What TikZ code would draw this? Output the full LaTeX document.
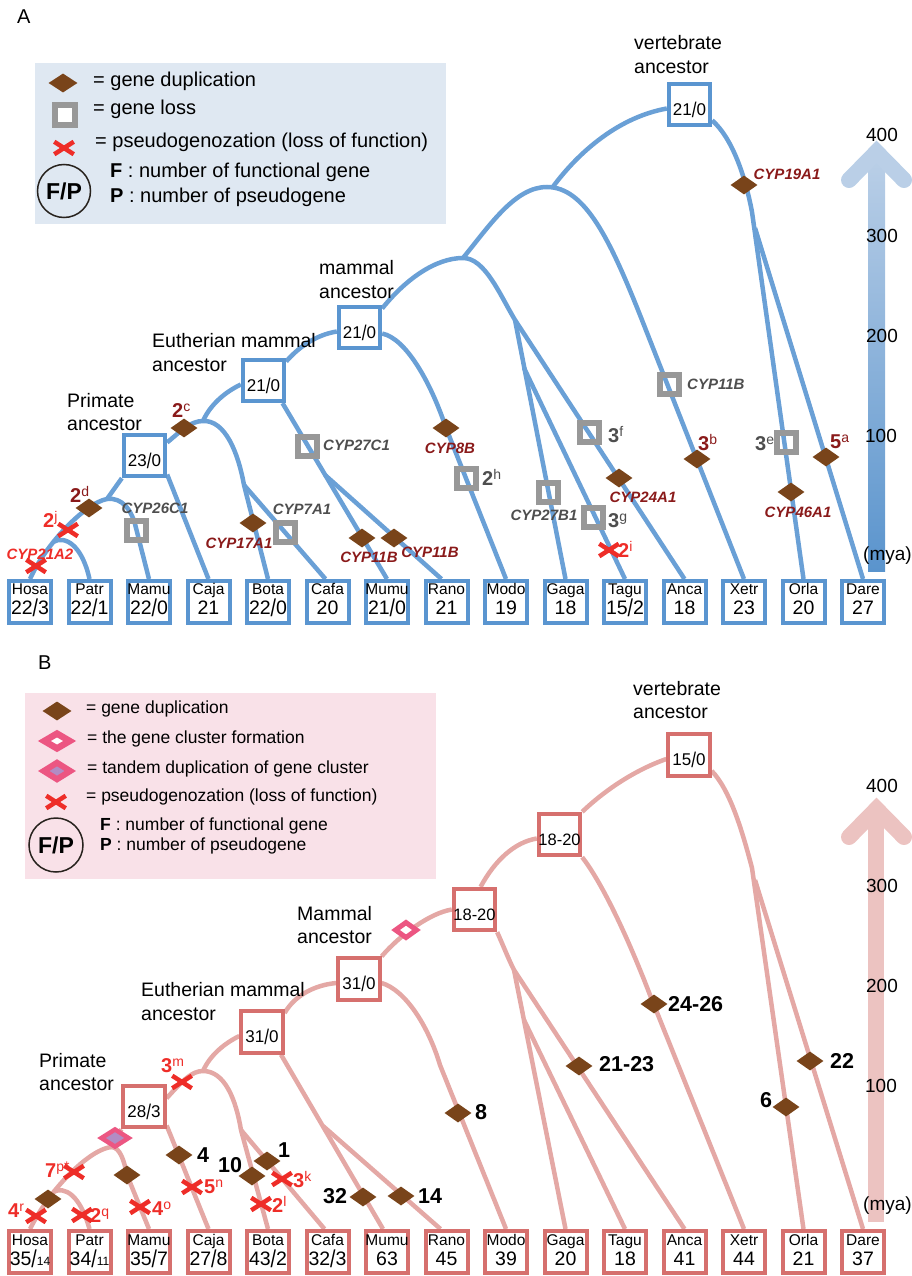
\documentclass[tikz,border=0pt]{standalone}
\usepackage{fontspec}
\setmainfont{Liberation Sans}
\usetikzlibrary{shapes.geometric,shapes.misc,calc}
\pgfdeclarelayer{edges}
\pgfsetlayers{edges,main}
\definecolor{lineA}{RGB}{106,160,214}
\definecolor{boxA}{RGB}{90,149,208}
\definecolor{lineB}{RGB}{228,168,165}
\definecolor{boxB}{RGB}{214,112,110}
\definecolor{brownd}{RGB}{121,68,26}
\definecolor{darkred}{RGB}{138,26,26}
\definecolor{brightred}{RGB}{238,45,40}
\definecolor{lossgray}{RGB}{152,152,152}
\definecolor{labgray}{RGB}{78,78,78}
\definecolor{pinkd}{RGB}{236,86,130}
\definecolor{lavender}{RGB}{178,140,196}
\definecolor{legA}{RGB}{223,232,242}
\definecolor{legB}{RGB}{249,225,232}
\definecolor{barAtop}{RGB}{186,207,231}
\definecolor{barAbot}{RGB}{90,148,205}
\definecolor{barB}{RGB}{236,195,193}
\definecolor{circ}{RGB}{40,35,30}
\newcommand\fsz[1]{\fontsize{#1}{#1}\selectfont}
\newcommand\fsl{\raisebox{-0.12em}{\scalebox{1}[1.25]{/}}}
\newcommand\smn[1]{{\fsz{12}#1}}
\newcommand\sups[1]{\raisebox{6pt}{\normalfont\fsz{14}#1}}
\begin{document}
\begin{tikzpicture}[x=1pt,y=-1pt,
  edgeA/.style={draw=lineA,line width=4.5pt},
  edgeB/.style={draw=lineB,line width=4.5pt},
  ibox/.style={draw=#1,line width=3.8pt,fill=white,minimum size=41.5pt,inner sep=0pt},
  lbox/.style={draw=#1,line width=4pt,fill=white,minimum size=42pt,inner sep=0pt},
  dup/.style={diamond,fill=brownd,minimum width=27pt,minimum height=19pt,inner sep=0pt},
  loss/.style={rectangle,draw=lossgray,line width=6pt,minimum size=19pt,inner sep=0pt},
  pseudo/.style={cross out,draw=brightred,line width=4.5pt,minimum width=15pt,minimum height=8pt,inner sep=0pt},
  clform/.style={diamond,draw=pinkd,fill=white,line width=5pt,minimum width=23pt,minimum height=17pt,inner sep=0pt},
  tandem/.style={diamond,draw=pinkd,fill=lavender,line width=4.5pt,minimum width=29pt,minimum height=19pt,inner sep=0pt},
  treelab/.style={inner sep=0pt,anchor=base west,font=\fsz{19.5}},
  leglab/.style={inner sep=0pt,anchor=base west},
  genelab/.style={inner sep=0pt,anchor=base,font=\fsz{15}\bfseries\itshape},
  numlab/.style={inner sep=0pt,anchor=base west,font=\fsz{20}\bfseries},
  blknum/.style={inner sep=0pt,anchor=base west,font=\fsz{21.5}\bfseries},
  boxnum/.style={inner sep=0pt,anchor=base,font=\fsz{17}},
  scalelab/.style={inner sep=0pt,anchor=base,font=\fsz{19}},
  fpcirc/.style={circle,draw=circ,line width=1.5pt,minimum size=53pt,inner sep=0pt,font=\fsz{23}\bfseries}
]
\useasboundingbox (0,0) rectangle (911,1276);

%================ PANEL A =================
\node[treelab,font=\fsz{20}] (labA) at (17,24) {A};
\fill[legA] (35,63) rectangle (446,224);
\node[dup,minimum width=29pt] (lAd) at (63,83) {};
\node[leglab,font=\fsz{20}] (lAdt) at (93,87) {= gene duplication};
\node[loss,fill=white,minimum size=20pt] (lAl) at (65,115) {};
\node[leglab,font=\fsz{20}] (lAlt) at (93,115) {= gene loss};
\node[pseudo] (lAx) at (64,148) {};
\node[leglab,font=\fsz{20}] (lAxt) at (95,148) {= pseudogenozation (loss of function)};
\node[fpcirc] (lAc) at (64,191) {F/P};
\node[leglab,font=\fsz{20}] (lAf) at (110,178) {\textbf{F} : number of functional gene};
\node[leglab,font=\fsz{20}] (lAp) at (110,203) {\textbf{P} : number of pseudogene};

% time scale A
\shade[top color=barAtop,bottom color=barAbot] (868,157) rectangle (885,571);
\draw[barAtop,line width=16pt,line cap=round,line join=miter] (849,180) -- (876.5,152) -- (904,180);
\node[scalelab] (sA4) at (882,142) {400};
\node[scalelab] (sA3) at (882,242) {300};
\node[scalelab] (sA2) at (882,342) {200};
\node[scalelab] (sA1) at (881,442) {100};
\node[scalelab,anchor=base west] (sAm) at (863,560) {(mya)};

% internal boxes A
\node[ibox=boxA] (aV) at (689.5,104.5) {};
\node[ibox=boxA] (aM) at (359.5,327.5) {};
\node[ibox=boxA] (aE) at (263.5,380.5) {};
\node[ibox=boxA] (aP) at (144.5,455.5) {};
\node[boxnum] (aVn) at ($(aV.center)+(0,11)$) {21\fsl0};
\node[boxnum] (aMn) at ($(aM.center)+(0,11)$) {21\fsl0};
\node[boxnum] (aEn) at ($(aE.center)+(0,11)$) {21\fsl0};
\node[boxnum] (aPn) at ($(aP.center)+(0,11)$) {23\fsl0};
\node[treelab] (aVl1) at (634,50) {vertebrate};
\node[treelab] (aVl2) at (634,74) {ancestor};
\node[treelab] (aMl1) at (319,274) {mammal};
\node[treelab] (aMl2) at (319,298) {ancestor};
\node[treelab] (aEl1) at (152,347) {Eutherian mammal};
\node[treelab] (aEl2) at (152,371) {ancestor};
\node[treelab] (aPl1) at (67,407) {Primate};
\node[treelab] (aPl2) at (67,430) {ancestor};

% leaves (both panels)
\foreach \nm/\na/\nb [count=\i from 0] in {Hosa/{22\fsl3}/{35\fsl\smn{14}},Patr/{22\fsl1}/{34\fsl\smn{11}},Mamu/{22\fsl0}/{35\fsl7},Caja/21/{27\fsl8},Bota/{22\fsl0}/{43\fsl2},Cafa/20/{32\fsl3},Mumu/{21\fsl0}/63,Rano/21/45,Modo/19/39,Gaga/18/20,Tagu/{15\fsl2}/18,Anca/18/41,Xetr/23/44,Orla/20/21,Dare/27/37}{
  \node[lbox=boxA] (a\nm) at ({30+59.5*\i},602) {};
  \node[inner sep=0pt,anchor=base,font=\fsz{15.5}] (a\nm-n) at ($(a\nm.center)+(0,-8)$) {\nm};
  \node[inner sep=0pt,anchor=base,font=\fsz{19.5}] (a\nm-c) at ($(a\nm.center)+(0,12)$) {\na};
  \node[lbox=boxB] (b\nm) at ({30+59.5*\i},1252) {};
  \node[inner sep=0pt,anchor=base,font=\fsz{15.5}] (b\nm-n) at ($(b\nm.center)+(0,-7)$) {\nm};
  \node[inner sep=0pt,anchor=base,font=\fsz{19.5}] (b\nm-c) at ($(b\nm.center)+(0,13)$) {\nb};
}

% junction coordinates A
\coordinate (aTJ) at (552,188);
\coordinate (aTet) at (547,187);
\coordinate (aAm) at (463,258);
\coordinate (aSp) at (515,320);
\coordinate (aBird) at (524,368);
\coordinate (aM8) at (446,428);
\coordinate (aRod) at (325,475);
\coordinate (aEP) at (203,421);
\coordinate (aLaur) at (244,485);
\coordinate (aHC) at (107,499);
\coordinate (aHP) at (53,542);
\coordinate (aMamuK) at (136,528);
\coordinate (aTel) at (752,212);
\coordinate (aDS) at (755,228);

\begin{pgfonlayer}{edges}
\draw[edgeA] (aV.190) .. controls (620,117) and (580,150) .. (aTJ);
\draw[edgeA] (aAm) .. controls (490,225) and (515,187) .. (aTet) .. controls (585,187) and (610,240) .. (640,315) -- (aXetr.north);
\draw[edgeA] (aM.40) .. controls (405,280) and (435,258) .. (aAm) .. controls (485,258) and (500,295) .. (aSp) -- (aAnca.north);
\draw[edgeA] (aSp) -- (aGaga.north);
\draw[edgeA] (aBird) -- (aTagu.north);
\draw[edgeA] (aM.-15) .. controls (405,338) and (430,380) .. (aM8) -- (aModo.north);
\draw[edgeA] (aM.190) .. controls (315,335) and (298,348) .. (aE.40);
\draw[edgeA] (aE.-50) -- (aMumu.north);
\draw[edgeA] (aRod) -- ([xshift=-5pt]aRano.north);
\draw[edgeA] (aE.190) .. controls (225,392) and (210,405) .. (aEP);
\draw[edgeA] (aP.30) .. controls (180,432) and (190,421) .. (aEP) .. controls (225,420) and (238,452) .. (aLaur) -- (aBota.north);
\draw[edgeA] (aLaur) -- ([xshift=-2pt]aCafa.north);
\draw[edgeA] (aP.-40) -- (aCaja.north);
\draw[edgeA] (aP.-135) -- (aHC);
\draw[edgeA] (aHC) .. controls (85,503) and (45,545) .. (aHosa.north);
\draw[edgeA] (aHP) .. controls (65,535) and (82,545) .. (aPatr.north);
\draw[edgeA] (aHC) .. controls (122,497) and (132,510) .. (aMamuK) -- (aMamu.north);
\draw[edgeA] (aV.-35) .. controls (732,138) and (745,175) .. (aTel) -- (aOrla.north);
\draw[edgeA] (aDS) -- (aDare.north);
\end{pgfonlayer}

% markers A
\node[dup] (aD19) at (744,185) {};
\node[dup] (aD2c) at (184,428) {};
\node[dup] (aD2d) at (89,508) {};
\node[dup] (aD17) at (253,523) {};
\node[dup] (aD11a) at (362,538) {};
\node[dup] (aD11b) at (394,538) {};
\node[dup] (aD8B) at (446,428) {};
\node[dup] (aD3b) at (697,459) {};
\node[dup] (aD24) at (619,478) {};
\node[dup] (aD46) at (791,492) {};
\node[dup] (aD5a) at (826,457) {};
\node[loss] (aL26) at (136,530) {};
\node[loss] (aL7) at (285,532) {};
\node[loss] (aL27C) at (307,446) {};
\node[loss] (aL11B) at (669,384) {};
\node[loss] (aL2h) at (466,478) {};
\node[loss] (aL3f) at (589,432) {};
\node[loss] (aL27B) at (548,492) {};
\node[loss] (aL3g) at (593,517) {};
\node[loss] (aL3e) at (786,442) {};
\node[pseudo] (aX2j) at (68,530) {};
\node[pseudo] (aX21) at (36,566) {};
\node[pseudo] (aX2i) at (609,550) {};

% marker labels A
\node[genelab,darkred] (tD19) at (787,179) {CYP19A1};
\node[numlab,darkred] (tD2c) at (172,417) {2\sups{c}};
\node[numlab,darkred] (tD2d) at (70,502) {2\sups{d}};
\node[numlab,brightred] (tX2j) at (43,527) {2\sups{j}};
\node[genelab,brightred] (tX21) at (40,559) {CYP21A2};
\node[genelab,labgray] (tL26) at (155,513) {CYP26C1};
\node[genelab,darkred] (tD17) at (239,548) {CYP17A1};
\node[genelab,labgray] (tL7) at (302,514) {CYP7A1};
\node[genelab,labgray,anchor=base west] (tL27C) at (323,450) {CYP27C1};
\node[genelab,darkred] (tD11a) at (369,562) {CYP11B};
\node[genelab,darkred] (tD11b) at (430,557) {CYP11B};
\node[genelab,darkred] (tD8B) at (450,453) {CYP8B};
\node[genelab,labgray,anchor=base west] (tL11B) at (687,389) {CYP11B};
\node[numlab,labgray] (tL2h) at (482,485) {2\sups{h}};
\node[numlab,labgray] (tL3f) at (608,442) {3\sups{f}};
\node[genelab,labgray] (tL27B) at (544,520) {CYP27B1};
\node[numlab,labgray] (tL3g) at (608,527) {3\sups{g}};
\node[numlab,brightred] (tX2i) at (618,557) {2\sups{i}};
\node[genelab,darkred] (tD24) at (643,502) {CYP24A1};
\node[numlab,darkred] (tD3b) at (698,450) {3\sups{b}};
\node[numlab,labgray] (tL3e) at (755,450) {3\sups{e}};
\node[genelab,darkred] (tD46) at (798,517) {CYP46A1};
\node[numlab,darkred] (tD5a) at (830,448) {5\sups{a}};

%================ PANEL B =================
\node[treelab,font=\fsz{20}] (labB) at (38,669) {B};
\fill[legB] (25,693) rectangle (436,879);
\node[dup,minimum width=29pt] (lBd) at (57,711) {};
\node[leglab,font=\fsz{17.5}] (lBdt) at (86,713) {= gene duplication};
\node[clform,line width=6.5pt,minimum width=28pt,minimum height=17.5pt] (lBc) at (57,741) {};
\node[leglab,font=\fsz{17.5}] (lBct) at (87,743) {= the gene cluster formation};
\node[tandem,line width=6pt,minimum width=29pt,minimum height=19pt] (lBt) at (57,771) {};
\node[leglab,font=\fsz{17.5}] (lBtt) at (87,773) {= tandem duplication of gene cluster};
\node[pseudo] (lBx) at (56,802) {};
\node[leglab,font=\fsz{17.5}] (lBxt) at (86,801) {= pseudogenozation (loss of function)};
\node[fpcirc,minimum size=54pt] (lBcirc) at (56,845) {F/P};
\node[leglab,font=\fsz{17.5}] (lBf) at (100,830) {\textbf{F} : number of functional gene};
\node[leglab,font=\fsz{17.5}] (lBp) at (100,850) {\textbf{P} : number of pseudogene};

% time scale B
\fill[barB] (868,812) rectangle (884,1222);
\draw[barB,line width=16pt,line cap=round,line join=miter] (849,837) -- (876.5,809) -- (904,837);
\node[scalelab] (sB4) at (882,792) {400};
\node[scalelab] (sB3) at (882,892) {300};
\node[scalelab] (sB2) at (882,992) {200};
\node[scalelab] (sB1) at (881,1092) {100};
\node[scalelab,anchor=base west] (sBm) at (863,1210) {(mya)};

% internal boxes B
\node[ibox=boxB] (bV) at (689,755) {};
\node[ibox=boxB] (bT) at (559.5,834.5) {};
\node[ibox=boxB] (bAm) at (474.5,909.5) {};
\node[ibox=boxB] (bM) at (359,979) {};
\node[ibox=boxB] (bE) at (262,1032) {};
\node[ibox=boxB] (bP) at (144,1106.5) {};
\node[boxnum] (bVn) at ($(bV.center)+(0,10.5)$) {15\fsl0};
\node[boxnum,font=\fsz{16.5}] (bTn) at ($(bT.center)+(0,10.5)$) {18-20};
\node[boxnum,font=\fsz{16.5}] (bAmn) at ($(bAm.center)+(0,10.5)$) {18-20};
\node[boxnum] (bMn) at ($(bM.center)+(0,10.5)$) {31\fsl0};
\node[boxnum] (bEn) at ($(bE.center)+(0,10.5)$) {31\fsl0};
\node[boxnum] (bPn) at ($(bP.center)+(0,10.5)$) {28\fsl3};
\node[treelab] (bVl1) at (633,695) {vertebrate};
\node[treelab] (bVl2) at (633,718) {ancestor};
\node[treelab] (bMl1) at (297,920) {Mammal};
\node[treelab] (bMl2) at (297,943) {ancestor};
\node[treelab] (bEl1) at (141,996) {Eutherian mammal};
\node[treelab] (bEl2) at (141,1020) {ancestor};
\node[treelab] (bPl1) at (39,1067) {Primate};
\node[treelab] (bPl2) at (39,1090) {ancestor};

% junction coordinates B
\coordinate (bTel) at (752,868);
\coordinate (bDS) at (755,880);
\coordinate (bX24) at (650,995);
\coordinate (bSp) at (514,970);
\coordinate (bBird) at (524,1020);
\coordinate (bM8) at (440,1065);
\coordinate (bRod) at (323,1126);
\coordinate (bEP) at (203,1071);
\coordinate (bLaur) at (241,1130);
\coordinate (bHC) at (112,1147);
\coordinate (bHP) at (53,1192);
\coordinate (bMamuK) at (127,1175);

\begin{pgfonlayer}{edges}
\draw[edgeB] (bV.190) .. controls (635,770) and (605,790) .. (bT.45);
\draw[edgeB] (bV.-35) .. controls (730,790) and (742,830) .. (bTel) -- (bOrla.north);
\draw[edgeB] (bDS) -- (bDare.north);
\draw[edgeB] (bT.190) .. controls (515,842) and (495,860) .. (bAm.75);
\draw[edgeB] (bT.-45) .. controls (600,880) and (625,930) .. (bX24) -- (bXetr.north);
\draw[edgeB] (bAm.180) .. controls (430,913) and (400,935) .. (bM.45);
\draw[edgeB] (bAm.-45) .. controls (503,945) and (508,958) .. (bSp) -- (bAnca.north);
\draw[edgeB] (bSp) -- (bGaga.north);
\draw[edgeB] (bBird) -- (bTagu.north);
\draw[edgeB] (bM.-10) .. controls (405,990) and (428,1025) .. (bM8) -- (bModo.north);
\draw[edgeB] (bM.190) .. controls (315,985) and (295,995) .. (bE.40);
\draw[edgeB] (bE.-50) -- ([xshift=-4pt]bMumu.north);
\draw[edgeB] (bRod) -- ([xshift=-6pt]bRano.north);
\draw[edgeB] (bE.190) .. controls (225,1043) and (210,1055) .. (bEP);
\draw[edgeB] (bP.20) .. controls (183,1080) and (192,1071) .. (bEP) .. controls (225,1071) and (236,1100) .. (bLaur) -- (bBota.north);
\draw[edgeB] (bLaur) -- ([xshift=-3pt]bCafa.north);
\draw[edgeB] (bP.-40) -- (bCaja.north);
\draw[edgeB] (bP.-135) -- (bHC);
\draw[edgeB] (bHC) .. controls (92,1148) and (52,1185) .. (bHosa.north);
\draw[edgeB] (bHP) .. controls (65,1186) and (80,1195) .. (bPatr.north);
\draw[edgeB] (bHC) .. controls (120,1148) and (124,1160) .. (bMamuK) -- (bMamu.north);
\end{pgfonlayer}

% markers B
\node[dup] (bD2426) at (654,1004) {};
\node[dup] (bD2123) at (579,1066) {};
\node[dup] (bD8) at (458,1113) {};
\node[dup] (bD6) at (786,1107) {};
\node[dup] (bD22) at (810,1061) {};
\node[dup] (bD4) at (179,1155) {};
\node[dup] (bD10) at (252,1176) {};
\node[dup] (bD1) at (267,1161) {};
\node[dup] (bD32) at (363,1197) {};
\node[dup] (bD14) at (401,1196) {};
\node[dup] (bDm) at (127,1175) {};
\node[dup] (bDh) at (48,1199) {};
\node[clform] (bCF) at (406,930) {};
\node[tandem] (bTD) at (115,1138) {};
\node[pseudo] (bX3m) at (182,1082) {};
\node[pseudo] (bX7p) at (74,1172) {};
\node[pseudo] (bX4r) at (36,1216) {};
\node[pseudo] (bX2q) at (82,1215) {};
\node[pseudo] (bX4o) at (140,1207) {};
\node[pseudo] (bX5n) at (192,1187) {};
\node[pseudo] (bX2l) at (261,1204) {};
\node[pseudo] (bX3k) at (282,1179) {};

% marker labels B
\node[blknum] (uD2426) at (668,1011) {24-26};
\node[blknum] (uD2123) at (599,1071) {21-23};
\node[blknum] (uD8) at (475,1119) {8};
\node[blknum] (uD6) at (760,1107) {6};
\node[blknum] (uD22) at (830,1068) {22};
\node[blknum] (uD4) at (197,1162) {4};
\node[blknum] (uD10) at (218,1172) {10};
\node[blknum] (uD1) at (278,1157) {1};
\node[blknum] (uD32) at (323,1203) {32};
\node[blknum] (uD14) at (418,1203) {14};
\node[numlab,brightred] (uX3m) at (161,1072) {3\sups{m}};
\node[numlab,brightred] (uX7p) at (45,1177) {7\sups{p*}};
\node[numlab,brightred] (uX4r) at (8,1217) {4\sups{r}};
\node[numlab,brightred] (uX2q) at (90,1222) {2\sups{q}};
\node[numlab,brightred] (uX4o) at (152,1215) {4\sups{o}};
\node[numlab,brightred] (uX5n) at (204,1193) {5\sups{n}};
\node[numlab,brightred] (uX2l) at (272,1212) {2\sups{l}};
\node[numlab,brightred] (uX3k) at (293,1187) {3\sups{k}};
\end{tikzpicture}
\end{document}
